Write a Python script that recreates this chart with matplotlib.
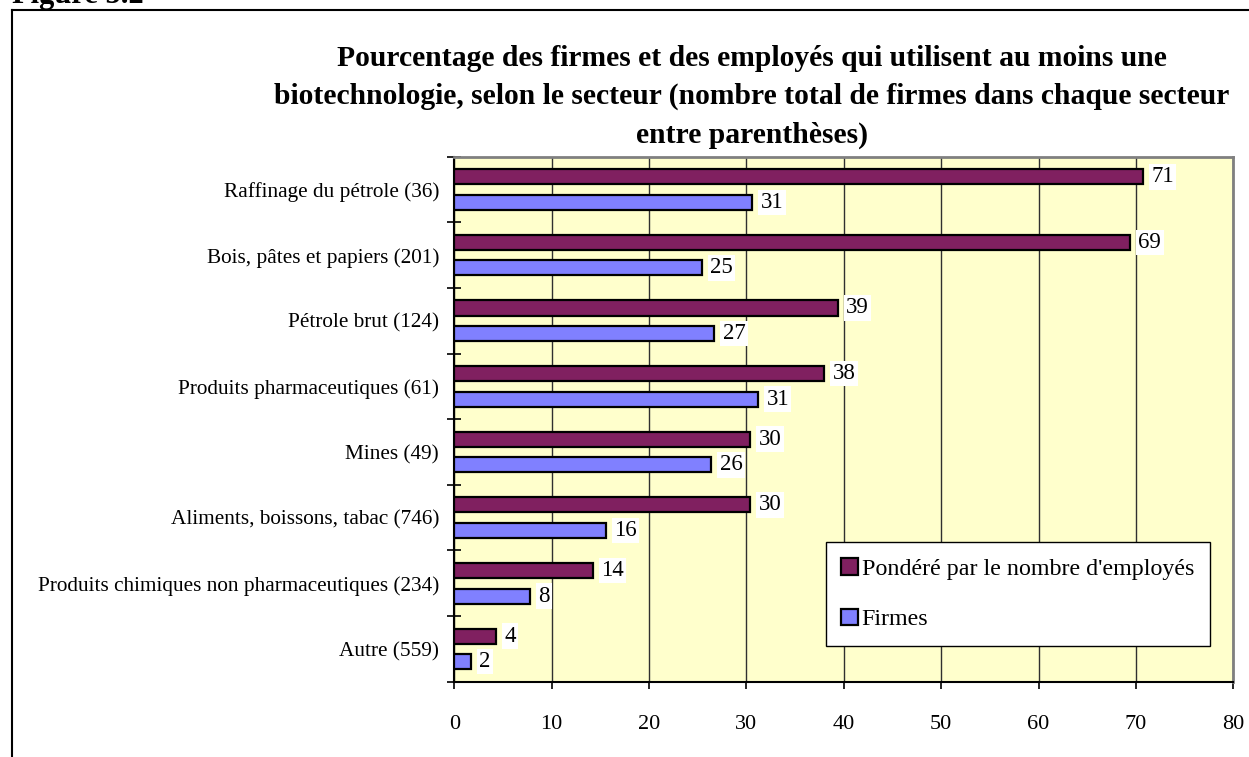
import numpy as np
import matplotlib.pyplot as plt
from matplotlib.lines import Line2D

# secteurs, du haut vers le bas
secteurs = ["Raffinage du pétrole (36)", "Bois, pâtes et papiers (201)",
            "Pétrole brut (124)", "Produits pharmaceutiques (61)", "Mines (49)",
            "Aliments, boissons, tabac (746)",
            "Produits chimiques non pharmaceutiques (234)", "Autre (559)"]
ponderes = [70.7, 69.4, 39.4, 38.0, 30.4, 30.4, 14.2, 4.3]
firmes = [30.6, 25.4, 26.7, 31.2, 26.4, 15.6, 7.8, 1.7]
xticks = [0, 10, 20, 30, 40, 50, 60, 70, 80]

plt.rcParams['font.family'] = ['Liberation Serif', 'DejaVu Serif']

fig = plt.figure(figsize=(12.49, 7.57), dpi=100)
ax = fig.add_axes([454.3 / 1249, 1 - 681.7 / 757, 779 / 1249, 525 / 757])
ax.set_facecolor('#FFFFCC')

y = np.arange(len(secteurs)) + 0.5
h = 0.23
off = 0.195
b1 = ax.barh(y - off, ponderes, height=h, color='#802060', edgecolor='black',
             linewidth=1.6, label="Pondéré par le nombre d'employés", zorder=3)
b2 = ax.barh(y + off, firmes, height=h, color='#8080FF', edgecolor='black',
             linewidth=1.6, label="Firmes", zorder=3)

for bars, vals in [(b1, ponderes), (b2, firmes)]:
    for bar, v in zip(bars, vals):
        ax.annotate(str(int(round(v))), (v, bar.get_y() + bar.get_height() / 2),
                    xytext=(6, 0), textcoords='offset points', va='center', ha='left',
                    fontsize=16.5, zorder=4,
                    bbox=dict(boxstyle='square,pad=0.1', fc='white', ec='none'))

ax.set_xlim(0, 80)
ax.set_ylim(len(secteurs), 0)
ax.set_xticks(xticks)
ax.set_xticklabels([str(t) for t in xticks], fontsize=16)
ax.set_yticks(np.arange(len(secteurs) + 1))
ax.set_yticklabels([])
ax.set_yticks(y, minor=True)
ax.set_yticklabels(secteurs, minor=True, fontsize=15.3)
ax.tick_params(axis='y', which='major', direction='inout', length=10, width=1.2)
ax.tick_params(axis='y', which='minor', length=0, pad=11)
ax.tick_params(axis='x', direction='out', length=5, width=1.2, pad=19)
ax.grid(axis='x', color='#303030', linewidth=1.0, zorder=1)

ax.spines['left'].set_linewidth(1.5)
ax.spines['bottom'].set_linewidth(1.5)
ax.spines['top'].set_color('#808080')
ax.spines['right'].set_color('#808080')
ax.spines['top'].set_linewidth(2)
ax.spines['right'].set_linewidth(2)

leg = ax.legend(loc='upper left', bbox_to_anchor=(825.7 / 1249, 1 - 542.3 / 757),
                bbox_transform=fig.transFigure, fontsize=17.3, frameon=True,
                fancybox=False, edgecolor='black', framealpha=1, borderaxespad=0,
                handlelength=0.7, handleheight=0.7, handletextpad=0.15,
                labelspacing=1.2, borderpad=0.65)
leg.get_frame().set_linewidth(1.0)

fig.text(752 / 1249, 1 - 97 / 757,
         "Pourcentage des firmes et des employés qui utilisent au moins une\n"
         "biotechnologie, selon le secteur (nombre total de firmes dans chaque secteur\n"
         "entre parenthèses)", ha='center', va='center', fontsize=21.3,
         fontweight='bold', linespacing=1.52)
fig.text(12 / 1249, 1 - 3 / 757, "Figure 5.2", ha='left', va='baseline',
         fontsize=22, fontweight='bold')

# cadre autour du graphique
fig.add_artist(Line2D([12 / 1249, 12 / 1249], [0, 1 - 10 / 757],
                      transform=fig.transFigure, color='black', linewidth=1.5))
fig.add_artist(Line2D([12 / 1249, 1], [1 - 10 / 757, 1 - 10 / 757],
                      transform=fig.transFigure, color='black', linewidth=1.5))

fig.savefig('out.png', dpi=100)
